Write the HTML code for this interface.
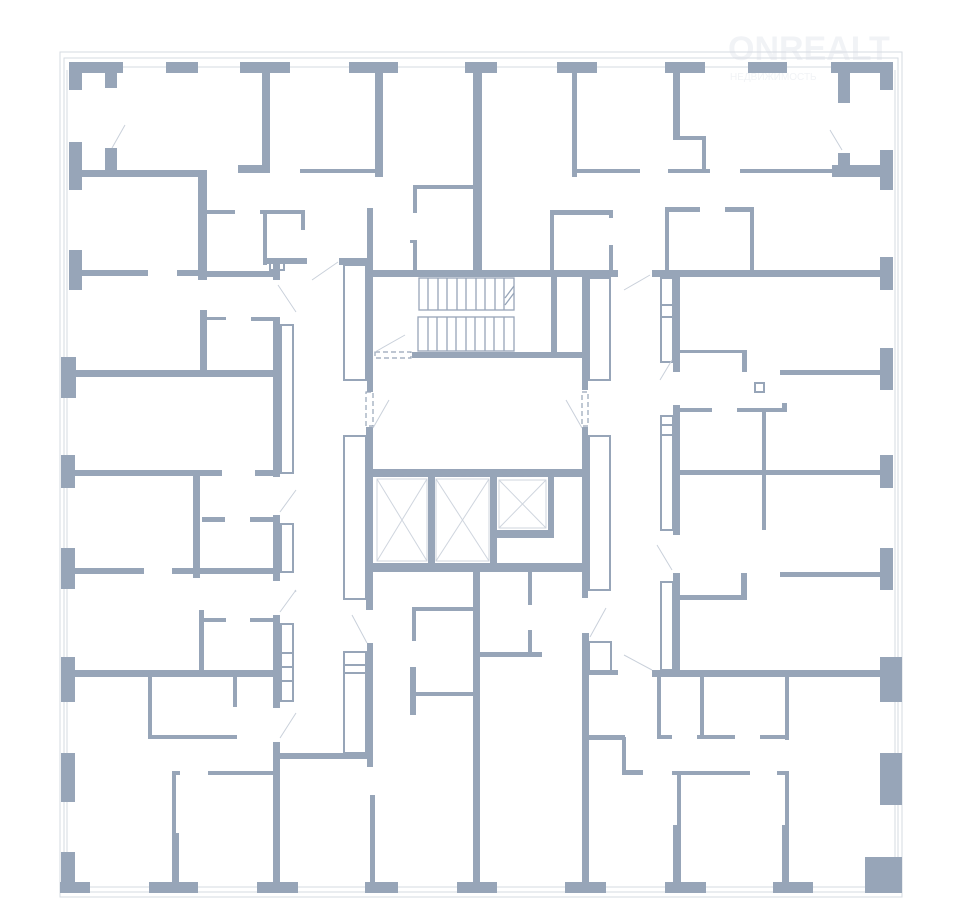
<!DOCTYPE html>
<html><head><meta charset="utf-8"><style>
html,body{margin:0;padding:0;background:#fff;width:960px;height:910px;overflow:hidden}
svg{display:block}
.w{fill:#97a5b8}
.t{fill:none;stroke:#97a5b8;stroke-width:2}
.l{stroke:#d6dbe2;stroke-width:1;fill:none}
.d{stroke:#c9d0da;stroke-width:1;fill:none}
</style></head><body>
<svg width="960" height="910" viewBox="0 0 960 910" xmlns="http://www.w3.org/2000/svg">
<text x="728" y="60" font-family="Liberation Sans, sans-serif" font-weight="bold" font-size="34" fill="#f1f3f6">ONREALT</text>
<text x="730" y="80" font-family="Liberation Sans, sans-serif" font-size="10" fill="#f1f3f6">НЕДВИЖИМОСТЬ</text>
<!-- outer frames -->
<rect x="60" y="52" width="842" height="845" class="l"/>
<rect x="64" y="58" width="834" height="834" class="l"/>
<line x1="70" y1="67" x2="890" y2="67" class="l"/>
<line x1="70" y1="887" x2="890" y2="887" class="l"/>
<line x1="67" y1="70" x2="67" y2="885" class="l"/>
<line x1="895" y1="70" x2="895" y2="885" class="l"/>
<g class="w">
<!-- top pillars -->
<rect x="69" y="62" width="54" height="11"/><rect x="69" y="62" width="13" height="28"/><rect x="105" y="72" width="12" height="16"/>
<rect x="166" y="62" width="32" height="11"/><rect x="240" y="62" width="50" height="11"/><rect x="349" y="62" width="49" height="11"/>
<rect x="465" y="62" width="32" height="11"/><rect x="557" y="62" width="40" height="11"/><rect x="665" y="62" width="40" height="11"/>
<rect x="748" y="62" width="39" height="11"/><rect x="831" y="62" width="62" height="11"/><rect x="880" y="62" width="13" height="28"/><rect x="838" y="72" width="12" height="31"/>
<!-- left pillars -->
<rect x="69" y="142" width="13" height="48"/><rect x="69" y="250" width="13" height="40"/><rect x="61" y="357" width="15" height="41"/>
<rect x="61" y="455" width="14" height="33"/><rect x="61" y="548" width="14" height="41"/><rect x="61" y="657" width="14" height="45"/>
<rect x="61" y="753" width="14" height="49"/><rect x="61" y="852" width="14" height="41"/>
<!-- right pillars -->
<rect x="880" y="150" width="13" height="40"/><rect x="880" y="257" width="13" height="33"/><rect x="880" y="348" width="13" height="42"/>
<rect x="880" y="455" width="13" height="33"/><rect x="880" y="548" width="13" height="42"/><rect x="880" y="657" width="22" height="45"/>
<rect x="880" y="753" width="22" height="52"/><rect x="865" y="857" width="37" height="36"/>
<!-- bottom pillars -->
<rect x="60" y="882" width="30" height="11"/><rect x="149" y="882" width="49" height="11"/><rect x="257" y="882" width="41" height="11"/>
<rect x="365" y="882" width="33" height="11"/><rect x="457" y="882" width="40" height="11"/><rect x="565" y="882" width="41" height="11"/>
<rect x="665" y="882" width="41" height="11"/><rect x="773" y="882" width="40" height="11"/>

<!-- TOP LEFT -->
<rect x="105" y="148" width="12" height="22"/>
<rect x="78" y="170" width="129" height="7"/>
<rect x="198" y="170" width="9" height="110"/>
<rect x="78" y="270" width="70" height="6"/><rect x="177" y="270" width="28" height="6"/>
<rect x="205" y="271" width="75" height="6"/>
<rect x="207" y="210" width="28" height="4"/>
<rect x="260" y="210" width="45" height="4"/><rect x="263" y="210" width="4" height="55"/><rect x="301" y="210" width="4" height="20"/>
<rect x="267" y="258" width="40" height="6"/><rect x="273" y="258" width="7" height="22"/>
<rect x="262" y="72" width="8" height="100"/><rect x="238" y="165" width="32" height="8"/>
<rect x="300" y="169" width="80" height="4"/><rect x="375" y="72" width="8" height="105"/>
<rect x="473" y="72" width="9" height="205"/>
<rect x="413" y="185" width="60" height="4"/><rect x="413" y="185" width="4" height="28"/><rect x="410" y="240" width="7" height="3"/><rect x="413" y="240" width="4" height="30"/>
<rect x="339" y="258" width="30" height="7"/>
<rect x="367" y="208" width="6" height="184"/>
<rect x="200" y="310" width="7" height="65"/><rect x="207" y="317" width="19" height="3"/><rect x="251" y="317" width="29" height="4"/>
<rect x="273" y="317" width="7" height="160"/>
<rect x="62" y="370" width="218" height="7"/>
<rect x="62" y="470" width="160" height="6"/><rect x="255" y="470" width="25" height="6"/>

<!-- CORE -->
<rect x="366" y="270" width="252" height="7"/>
<rect x="412" y="352" width="176" height="6"/>
<rect x="551" y="277" width="6" height="78"/>
<rect x="582" y="270" width="6" height="120"/>
<rect x="366" y="427" width="7" height="183"/>
<rect x="582" y="427" width="6" height="171"/>
<rect x="366" y="469" width="222" height="8"/>
<rect x="366" y="563" width="222" height="9"/>
<rect x="428" y="470" width="7" height="100"/>
<rect x="490" y="470" width="7" height="100"/>
<rect x="548" y="470" width="6" height="68"/>
<rect x="497" y="530" width="57" height="8"/>

<!-- TOP RIGHT -->
<rect x="572" y="72" width="5" height="105"/>
<rect x="572" y="169" width="68" height="4"/><rect x="668" y="169" width="42" height="4"/>
<rect x="673" y="72" width="7" height="68"/><rect x="673" y="136" width="33" height="4"/><rect x="702" y="136" width="4" height="37"/>
<rect x="740" y="169" width="95" height="4"/><rect x="832" y="165" width="48" height="12"/><rect x="838" y="153" width="12" height="15"/>
<rect x="550" y="212" width="4" height="60"/><rect x="550" y="210" width="63" height="5"/><rect x="609" y="210" width="4" height="8"/><rect x="609" y="245" width="4" height="25"/>
<rect x="665" y="207" width="4" height="63"/><rect x="665" y="207" width="35" height="5"/><rect x="725" y="207" width="28" height="5"/><rect x="750" y="207" width="4" height="63"/>
<rect x="652" y="270" width="240" height="7"/>
<rect x="673" y="270" width="7" height="102"/>
<rect x="680" y="350" width="67" height="3"/><rect x="742" y="350" width="5" height="22"/>
<rect x="780" y="370" width="100" height="5"/>
<rect x="673" y="405" width="7" height="130"/>
<rect x="680" y="408" width="32" height="4"/><rect x="737" y="408" width="50" height="4"/><rect x="782" y="403" width="5" height="9"/>
<rect x="762" y="408" width="4" height="122"/>
<rect x="680" y="470" width="210" height="5"/>

<!-- BOTTOM LEFT -->
<rect x="193" y="470" width="7" height="108"/>
<rect x="202" y="517" width="23" height="5"/><rect x="250" y="517" width="27" height="5"/>
<rect x="273" y="515" width="7" height="66"/>
<rect x="62" y="568" width="82" height="6"/><rect x="172" y="568" width="108" height="6"/>
<rect x="199" y="610" width="5" height="60"/><rect x="203" y="618" width="23" height="4"/><rect x="250" y="618" width="27" height="4"/>
<rect x="273" y="615" width="7" height="93"/>
<rect x="62" y="670" width="218" height="7"/>
<rect x="148" y="677" width="4" height="61"/><rect x="148" y="735" width="89" height="4"/><rect x="233" y="677" width="4" height="30"/>
<rect x="273" y="742" width="7" height="140"/>
<rect x="280" y="753" width="92" height="6"/>
<rect x="367" y="643" width="6" height="124"/>
<rect x="208" y="771" width="65" height="4"/>
<rect x="172" y="771" width="8" height="4"/><rect x="172" y="771" width="4" height="111"/><rect x="172" y="833" width="7" height="49"/>
<rect x="370" y="795" width="5" height="87"/>
<rect x="473" y="572" width="7" height="310"/>
<rect x="412" y="607" width="61" height="4"/><rect x="412" y="607" width="4" height="34"/><rect x="410" y="667" width="6" height="48"/><rect x="412" y="692" width="61" height="4"/>
<rect x="480" y="652" width="62" height="5"/>
<rect x="528" y="572" width="4" height="33"/><rect x="528" y="630" width="4" height="25"/>

<!-- BOTTOM RIGHT -->
<rect x="582" y="633" width="7" height="249"/>
<rect x="588" y="670" width="30" height="5"/>
<rect x="588" y="735" width="37" height="5"/><rect x="622" y="737" width="4" height="36"/><rect x="622" y="770" width="21" height="5"/>
<rect x="673" y="573" width="7" height="100"/>
<rect x="680" y="595" width="65" height="5"/><rect x="741" y="573" width="6" height="27"/>
<rect x="780" y="572" width="100" height="5"/>
<rect x="652" y="670" width="235" height="7"/>
<rect x="657" y="677" width="4" height="61"/><rect x="657" y="735" width="15" height="4"/>
<rect x="700" y="677" width="4" height="61"/><rect x="697" y="735" width="38" height="4"/>
<rect x="760" y="735" width="28" height="4"/><rect x="785" y="677" width="4" height="63"/>
<rect x="672" y="771" width="78" height="4"/><rect x="777" y="771" width="11" height="4"/>
<rect x="677" y="771" width="4" height="111"/><rect x="673" y="825" width="7" height="57"/>
<rect x="785" y="771" width="4" height="111"/><rect x="782" y="825" width="7" height="57"/>
</g>
<!-- thin rects -->
<g class="t" stroke-width="2">
<rect x="344" y="265" width="22" height="115"/>
<rect x="589" y="278" width="21" height="102"/>
<rect x="344" y="436" width="22" height="163"/>
<rect x="589" y="436" width="21" height="154"/>
<rect x="661" y="278" width="12" height="84"/>
<rect x="661" y="416" width="12" height="114"/>
<rect x="661" y="582" width="12" height="88"/>
<rect x="281" y="325" width="12" height="148"/>
<rect x="281" y="524" width="12" height="48"/>
<rect x="281" y="624" width="12" height="77"/>
<rect x="344" y="652" width="22" height="101"/>
<rect x="589" y="642" width="22" height="31"/>
<rect x="270" y="260" width="14" height="10"/>
<rect x="755" y="383" width="9" height="9"/>
<line x1="344" y1="665" x2="366" y2="665"/><line x1="344" y1="673" x2="366" y2="673"/>
<line x1="281" y1="653" x2="293" y2="653"/><line x1="281" y1="667" x2="293" y2="667"/><line x1="281" y1="681" x2="293" y2="681"/>
<line x1="661" y1="305" x2="673" y2="305"/><line x1="661" y1="317" x2="673" y2="317"/>
<line x1="661" y1="425" x2="673" y2="425"/><line x1="661" y1="435" x2="673" y2="435"/>
</g>
<!-- stairs -->
<g stroke="#97a5b8" stroke-width="1.3" fill="none">
<rect x="419" y="278" width="95" height="32"/>
<rect x="418" y="317" width="96" height="34"/>
<path d="M428 278v32M438 278v32M447 278v32M457 278v32M466 278v32M476 278v32M485 278v32M495 278v32M504 278v32"/>
<path d="M428 317v34M437 317v34M447 317v34M456 317v34M466 317v34M475 317v34M485 317v34M494 317v34M504 317v34"/>
<path d="M505 305l9-12M505 298l9-12"/>
</g>
<!-- elevator boxes -->
<g stroke="#cfd5de" stroke-width="1" fill="none">
<rect x="377" y="479" width="50" height="82"/><path d="M377 479L427 561M427 479L377 561"/>
<rect x="436" y="479" width="53" height="82"/><path d="M436 479L489 561M489 479L436 561"/>
<rect x="499" y="480" width="47" height="48"/><path d="M499 480L546 528M546 480L499 528"/>
</g>
<!-- dashed doors -->
<g stroke="#97a5b8" stroke-width="1.2" fill="none" stroke-dasharray="5,3">
<rect x="375" y="352" width="36" height="6"/>
<rect x="366" y="392" width="7" height="34"/>
<rect x="582" y="392" width="6" height="34"/>
<rect x="378" y="470" width="38" height="6"/><rect x="440" y="470" width="34" height="6"/><rect x="502" y="470" width="32" height="6"/>
</g>
<!-- door swing lines -->
<g class="d">
<path d="M112 148L125 125M312 280L338 262M278 285L296 312M375 352L405 335M373 428L389 400M582 428L566 400M624 290L650 275M660 380L672 360M280 512L296 490M280 612L296 590M280 738L296 713M352 615L367 643M295 590L296 592M590 637L606 608M624 655L652 670M657 545L672 570M830 130L842 150"/>
</g>
</svg>
</body></html>
